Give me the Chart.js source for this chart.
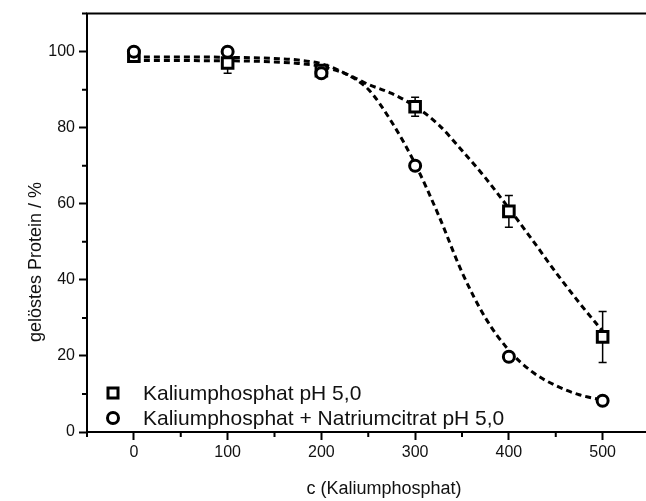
<!DOCTYPE html>
<html>
<head>
<meta charset="utf-8">
<script src="https://cdn.jsdelivr.net/npm/chart.js@4/dist/chart.umd.min.js"></script>
<style>
    html, body { margin: 0; padding: 0; background: #fff; overflow: hidden; }
    #wrap { width: 646px; height: 501px; overflow: hidden; }
</style>
</head>
<body>
<div id="wrap"><canvas id="proteinChart" width="660" height="501"></canvas></div>
<script>
// measured points
const concentrations = [0, 100, 200, 300, 400, 500];
const kpValues = [98.8, 97, 95, 85.5, 58, 25];
const kpErrors = [0.8, 2.7, 1.2, 2.5, 4.2, 6.7];
const kpCitValues = [100, 100, 94.3, 70, 19.8, 8.2];

// fitted curves
const fitX = [0, 25, 50, 75, 100, 125, 150, 175, 200, 225, 250, 275, 300, 325, 350, 375, 400, 425, 450, 475, 500];
const kpFit = [97.7, 97.7, 97.7, 97.6, 97.6, 97.5, 97.3, 96.9, 96.1, 94.3, 91.4, 89.0, 85.6, 80.8, 74.0, 66.8, 58.8, 50.5, 42.0, 34.0, 26.5];
const kpCitFit = [98.6, 98.6, 98.6, 98.6, 98.5, 98.4, 98.2, 97.8, 96.8, 94.3, 90.1, 81.5, 70.5, 57.0, 42.0, 30.0, 21.5, 15.8, 12.2, 9.8, 8.4];

const xTicksMajor = [0, 100, 200, 300, 400, 500];
const yTicksMajor = [0, 20, 40, 60, 80, 100];

const seriesLabels = ['Kaliumphosphat pH 5,0', 'Kaliumphosphat + Natriumcitrat pH 5,0'];
const xTitle = 'c (Kaliumphosphat)';
const yTitle = 'gelöstes Protein / %';

const FONT = '"Liberation Sans", Arial, sans-serif';
const toPoints = (xs, ys) => xs.map((x, i) => ({ x: x, y: ys[i] }));

// error bars, minor ticks, top frame, legend and axis titles
const extrasPlugin = {
    id: 'extras',
    beforeDatasetsDraw(chart) {
        const ctx = chart.ctx;
        const xs = chart.scales.x, ys = chart.scales.y;
        ctx.save();
        ctx.strokeStyle = '#000';
        ctx.lineWidth = 1.5;
        concentrations.forEach((c, i) => {
            const px = xs.getPixelForValue(c);
            const top = ys.getPixelForValue(kpValues[i] + kpErrors[i]);
            const bot = ys.getPixelForValue(kpValues[i] - kpErrors[i]);
            ctx.beginPath();
            ctx.moveTo(px, top); ctx.lineTo(px, bot);
            ctx.moveTo(px - 4, top); ctx.lineTo(px + 4, top);
            ctx.moveTo(px - 4, bot); ctx.lineTo(px + 4, bot);
            ctx.stroke();
        });
        ctx.restore();
    },
    afterDraw(chart) {
        const ctx = chart.ctx;
        const area = chart.chartArea;
        const xs = chart.scales.x, ys = chart.scales.y;
        ctx.save();
        ctx.strokeStyle = '#000';
        ctx.lineWidth = 2;

        // top frame
        ctx.beginPath();
        ctx.moveTo(area.left - 1, area.top);
        ctx.lineTo(area.right, area.top);
        ctx.stroke();

        // minor ticks
        ctx.beginPath();
        xs.ticks.forEach(t => {
            if (xTicksMajor.includes(t.value)) return;
            const px = xs.getPixelForValue(t.value);
            ctx.moveTo(px, area.bottom); ctx.lineTo(px, area.bottom + 5);
        });
        ys.ticks.forEach(t => {
            if (yTicksMajor.includes(t.value)) return;
            const py = ys.getPixelForValue(t.value);
            ctx.moveTo(area.left, py); ctx.lineTo(area.left - 5, py);
        });
        ctx.stroke();

        // legend
        const lx = area.left + 26;
        const rows = [area.bottom - 39, area.bottom - 14];
        ctx.lineWidth = 3;
        ctx.fillStyle = '#fff';
        ctx.beginPath();
        ctx.rect(lx - 5, rows[0] - 5, 10, 10);
        ctx.fill(); ctx.stroke();
        ctx.beginPath();
        ctx.arc(lx, rows[1], 5.5, 0, Math.PI * 2);
        ctx.fill(); ctx.stroke();

        ctx.fillStyle = '#111';
        ctx.font = '21px ' + FONT;
        ctx.textAlign = 'left';
        ctx.textBaseline = 'middle';
        ctx.fillText(seriesLabels[0], lx + 30, rows[0] + 1);
        ctx.fillText(seriesLabels[1], lx + 30, rows[1] + 1);

        // axis titles
        ctx.font = '18px ' + FONT;
        ctx.textAlign = 'center';
        ctx.fillText(xTitle, 384, 489);
        ctx.translate(36, 262);
        ctx.rotate(-Math.PI / 2);
        ctx.fillText(yTitle, 0, 0);
        ctx.restore();
    }
};

const ctx = document.getElementById('proteinChart').getContext('2d');
window.proteinChart = new Chart(ctx, {
    data: {
        datasets: [
            {
                type: 'line',
                label: 'fit KP',
                data: toPoints(fitX, kpFit),
                borderColor: '#000',
                borderWidth: 3,
                borderDash: [6, 4],
                pointRadius: 0,
                cubicInterpolationMode: 'monotone',
                fill: false,
                order: 4
            },
            {
                type: 'line',
                label: 'fit KP + NC',
                data: toPoints(fitX, kpCitFit),
                borderColor: '#000',
                borderWidth: 3,
                borderDash: [6, 4],
                pointRadius: 0,
                cubicInterpolationMode: 'monotone',
                fill: false,
                order: 3
            },
            {
                type: 'scatter',
                label: seriesLabels[0],
                data: toPoints(concentrations, kpValues),
                pointStyle: 'rect',
                pointRadius: 7.5,
                borderWidth: 3,
                borderColor: '#000',
                backgroundColor: '#fff',
                order: 2
            },
            {
                type: 'scatter',
                label: seriesLabels[1],
                data: toPoints(concentrations, kpCitValues),
                pointStyle: 'circle',
                pointRadius: 5.5,
                borderWidth: 3,
                borderColor: '#000',
                backgroundColor: '#fff',
                order: 1
            }
        ]
    },
    options: {
        responsive: false,
        animation: false,
        layout: { padding: { left: 0, top: 11, right: 3, bottom: 0 } },
        plugins: {
            legend: { display: false },
            tooltip: { enabled: false }
        },
        scales: {
            x: {
                type: 'linear',
                min: -50,
                max: 550,
                afterFit: s => { s.height = 69; },
                ticks: {
                    stepSize: 50,
                    autoSkip: false,
                    maxRotation: 0,
                    padding: 3,
                    color: '#111',
                    font: { family: FONT, size: 16 },
                    callback: v => xTicksMajor.includes(v) ? String(v) : ''
                },
                grid: {
                    drawOnChartArea: false,
                    tickLength: 8,
                    tickWidth: 2,
                    tickColor: c => xTicksMajor.includes(c.tick.value) ? '#000' : 'rgba(0,0,0,0)'
                },
                border: { color: '#000', width: 2 }
            },
            y: {
                type: 'linear',
                min: 0,
                max: 110,
                afterFit: s => { s.width = 87; },
                ticks: {
                    stepSize: 10,
                    autoSkip: false,
                    padding: 4,
                    color: '#111',
                    font: { family: FONT, size: 16 },
                    callback: v => yTicksMajor.includes(v) ? String(v) : ''
                },
                grid: {
                    drawOnChartArea: false,
                    tickLength: 8,
                    tickWidth: 2,
                    tickColor: c => yTicksMajor.includes(c.tick.value) ? '#000' : 'rgba(0,0,0,0)'
                },
                border: { color: '#000', width: 2 }
            }
        }
    },
    plugins: [extrasPlugin]
});
</script>
</body>
</html>
